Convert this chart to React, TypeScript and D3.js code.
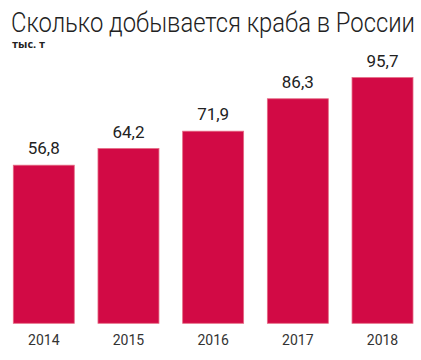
import React from "react";
import * as d3 from "d3";

const years = ["2014", "2015", "2016", "2017", "2018"];
const values = [56.8, 64.2, 71.9, 86.3, 95.7];
const valueLabels = ["56,8", "64,2", "71,9", "86,3", "95,7"];
const title = "Сколько добывается краба в России";
const unit = "тыс. т";

const W = 421;
const H = 360;

export default function App() {
  const x = d3.scaleBand<string>().domain(years).range([13.3, 413]).paddingInner(0.28).paddingOuter(0);
  const y = d3.scaleLinear().domain([-13.4, 100]).range([323.3, 67.9]);
  const base = y(-13.4);
  return (
    <svg width={W} height={H} style={{ position: "absolute", left: 0, top: 0, background: "#fff" }}>
      <text transform="translate(11,32) scale(1,1.18)" x={0} y={0} fontFamily="Roboto, sans-serif" fontWeight={300} fontSize={23.6} fill="#222" textLength={404} lengthAdjust="spacingAndGlyphs">
        {title}
      </text>
      <text x={12} y={47.5} fontFamily="'Open Sans', sans-serif" fontWeight={700} fontSize={11} fill="#222">
        {unit}
      </text>
      {years.map((yr, i) => {
        const bx = x(yr)!;
        const top = y(values[i]);
        return (
          <g key={yr}>
            <rect x={bx} y={top} width={x.bandwidth()} height={base - top} fill="#D20A45" stroke="#E56A84" strokeWidth={0.8} />
            <text x={bx + x.bandwidth() / 2} y={top - 11} textAnchor="middle" fontFamily="'Liberation Sans Narrow', Roboto, sans-serif" fontSize={17} fill="#222">
              {valueLabels[i]}
            </text>
            <text x={bx + x.bandwidth() / 2} y={345} textAnchor="middle" fontFamily="'Liberation Sans Narrow', Roboto, sans-serif" fontSize={14} fill="#333">
              {yr}
            </text>
          </g>
        );
      })}
    </svg>
  );
}
